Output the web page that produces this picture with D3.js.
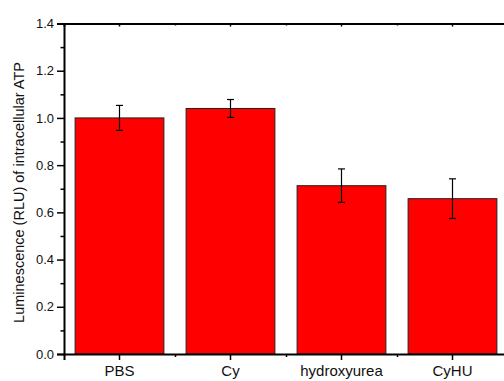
<!DOCTYPE html>
<html>
<head>
<meta charset="utf-8">
<script src="https://cdn.jsdelivr.net/npm/d3@7"></script>
<style>
  body { margin: 0; background: #fff; }
  text { font-family: "Liberation Sans", Arial, sans-serif; }
</style>
</head>
<body>
<div class="canvas"></div>
<script>
// data
const categories = ['PBS', 'Cy', 'hydroxyurea', 'CyHU'];
const means = [1.0, 1.04, 0.713, 0.658];
const errors = [0.053, 0.038, 0.071, 0.084];
const yTicks = [0, 0.2, 0.4, 0.6, 0.8, 1.0, 1.2, 1.4];

// margins
const margin = {top: 23.5, right: -4, bottom: 27, left: 64};
const width = 504, height = 381;
const graphWidth = width - margin.left - margin.right;
const graphHeight = height - margin.top - margin.bottom;

const svg = d3.select('.canvas').append('svg')
    .attr('width', width)
    .attr('height', height);

const graph = svg.append('g')
    .attr('transform', `translate(${margin.left}, ${margin.top})`);

// scales
const x = d3.scaleBand()
    .domain(categories)
    .range([0, graphWidth])
    .paddingInner(0.2)
    .paddingOuter(0.1);
const y = d3.scaleLinear()
    .domain([0, 1.4])
    .range([graphHeight, 0]);

// bars
graph.selectAll('rect.bar')
    .data(categories)
    .enter().append('rect')
    .attr('class', 'bar')
    .attr('x', d => x(d))
    .attr('width', x.bandwidth())
    .attr('y', (d, i) => y(means[i]))
    .attr('height', (d, i) => graphHeight - y(means[i]))
    .attr('fill', '#ff0000')
    .attr('stroke', '#222')
    .attr('stroke-width', 1);

// error bars
const err = graph.selectAll('g.err')
    .data(categories)
    .enter().append('g')
    .attr('class', 'err')
    .attr('stroke', '#000')
    .attr('stroke-width', 1.2);
const cx = d => x(d) + x.bandwidth() / 2;
err.append('line')
    .attr('x1', cx).attr('x2', cx)
    .attr('y1', (d, i) => y(means[i] + errors[i]))
    .attr('y2', (d, i) => y(means[i] - errors[i]));
err.append('line')
    .attr('x1', d => cx(d) - 3.5).attr('x2', d => cx(d) + 3.5)
    .attr('y1', (d, i) => y(means[i] + errors[i]))
    .attr('y2', (d, i) => y(means[i] + errors[i]));
err.append('line')
    .attr('x1', d => cx(d) - 3.5).attr('x2', d => cx(d) + 3.5)
    .attr('y1', (d, i) => y(means[i] - errors[i]))
    .attr('y2', (d, i) => y(means[i] - errors[i]));

// y axis (major + minor ticks)
const yMinor = d3.range(0.1, 1.4, 0.2);
const yAxisGroup = graph.append('g').attr('class', 'y-axis');
yAxisGroup.call(d3.axisLeft(y).tickValues(yTicks).tickFormat(d3.format('.1f')).tickSize(7).tickPadding(3));
yAxisGroup.append('g').call(d3.axisLeft(y).tickValues(yMinor).tickFormat('').tickSize(3.5))
    .select('.domain').remove();
yAxisGroup.selectAll('.tick text').attr('font-size', 13);

// x axis: major at centers, minor at category boundaries
const xPos = d3.scaleLinear().domain([0, categories.length]).range([0, graphWidth]);
const xAxisGroup = graph.append('g')
    .attr('class', 'x-axis')
    .attr('transform', `translate(0, ${graphHeight})`);
xAxisGroup.call(d3.axisBottom(x).tickSize(6).tickPadding(5));
xAxisGroup.append('g').call(d3.axisBottom(xPos).tickValues([1, 2, 3]).tickFormat('').tickSize(3))
    .select('.domain').remove();
xAxisGroup.selectAll('.tick text').attr('font-size', 15);

// top frame with small inward ticks
const topGroup = graph.append('g').attr('class', 'top-axis');
topGroup.call(d3.axisTop(x).tickFormat('').tickSize(-3));
topGroup.append('g').call(d3.axisTop(xPos).tickValues([1, 2, 3]).tickFormat('').tickSize(-2))
    .select('.domain').remove();

// axis styling
graph.selectAll('.domain')
    .attr('stroke', '#000')
    .attr('stroke-width', 2);
graph.selectAll('.tick line')
    .attr('stroke', '#000')
    .attr('stroke-width', 1.5);
graph.selectAll('.tick text')
    .attr('fill', '#111');

// y label
svg.append('text')
    .attr('transform', `translate(24, 192.5) rotate(-90)`)
    .attr('text-anchor', 'middle')
    .attr('font-size', 14.5)
    .attr('fill', '#111')
    .text('Luminescence (RLU) of intracellular ATP');
</script>
</body>
</html>
